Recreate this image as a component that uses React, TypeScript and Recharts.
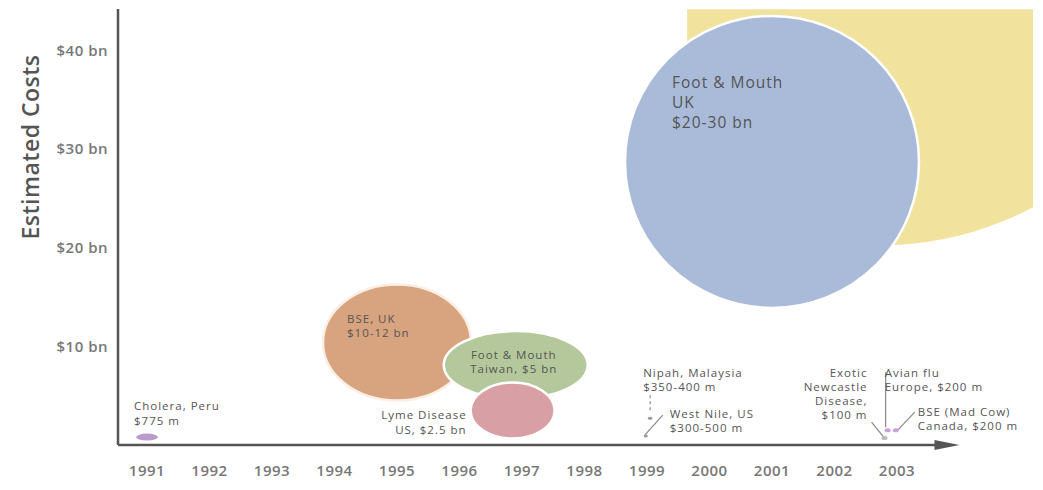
import React from 'react';
import { ScatterChart, Scatter, XAxis, YAxis, ReferenceLine } from 'recharts';

// outbreaks, in the order they are painted (back to front)
const outbreaks = [
  'Cropped bubble',
  'Foot & Mouth, UK',
  'BSE, UK',
  'Foot & Mouth, Taiwan',
  'Lyme Disease, US',
  'Cholera, Peru',
  'Nipah, Malaysia',
  'West Nile, US',
  'Exotic Newcastle Disease',
  'Avian flu, Europe',
  'BSE (Mad Cow), Canada',
];
const outbreakYears = [2002.73, 2001, 1995, 1996.9, 1996.85, 1991, 1999.05, 1998.98, 2002.8, 2002.85, 2002.98];
// where each mark sits on the cost axis ($ bn), as drawn
const plottedCosts = [53.4, 28.7, 10.4, 8.1, 3.5, 0.8, 2.7, 0.9, 0.7, 1.5, 1.5];
const outbreakLabels = [
  [],
  ['Foot & Mouth', 'UK', '$20-30 bn'],
  ['BSE, UK', '$10-12 bn'],
  ['Foot & Mouth', 'Taiwan, $5 bn'],
  ['Lyme Disease', 'US, $2.5 bn'],
  ['Cholera, Peru', '$775 m'],
  ['Nipah, Malaysia', '$350-400 m'],
  ['West Nile, US', '$300-500 m'],
  ['Exotic', 'Newcastle', 'Disease,', '$100 m'],
  ['Avian flu', 'Europe, $200 m'],
  ['BSE (Mad Cow)', 'Canada, $200 m'],
];

const yearTicks = [1991, 1992, 1993, 1994, 1995, 1996, 1997, 1998, 1999, 2000, 2001, 2002, 2003];
const costTicks = [10, 20, 30, 40];

const data = outbreaks.map((name, i) => ({
  name,
  year: outbreakYears[i],
  cost: plottedCosts[i],
  lines: outbreakLabels[i],
}));

interface MarkStyle {
  rx: number;
  ry: number;
  fill: string;
  stroke?: string;
  dx: number;
  dy: number;
  anchor?: 'start' | 'middle' | 'end';
  size?: number;
  lh?: number;
  leader?: string;
  dashed?: boolean;
  clip?: boolean;
}

const markStyles: Record<string, MarkStyle> = {
  'Cropped bubble': { rx: 327, ry: 327, fill: '#f1e39d', dx: 0, dy: 0, clip: true },
  'Foot & Mouth, UK': { rx: 147, ry: 146, fill: '#a9bbd9', stroke: '#fff', dx: -100, dy: -74, size: 15.5, lh: 20 },
  'BSE, UK': { rx: 74, ry: 58, fill: '#d8a37f', stroke: '#fbeee4', dx: -50, dy: -19, lh: 14 },
  'Foot & Mouth, Taiwan': { rx: 72, ry: 34, fill: '#b5c89c', stroke: '#fff', dx: -2, dy: -6, anchor: 'middle', lh: 14 },
  'Lyme Disease, US': { rx: 42, ry: 28, fill: '#d89fa5', stroke: '#fff', dx: -46, dy: 9, anchor: 'end', lh: 15 },
  'Cholera, Peru': { rx: 11, ry: 3.5, fill: '#b99bcb', dx: -13, dy: -27, lh: 15 },
  'Nipah, Malaysia': { rx: 2.5, ry: 1.5, fill: '#999', dx: -7, dy: -41, lh: 14, leader: 'M0,-23 L0,-8', dashed: true },
  'West Nile, US': { rx: 2, ry: 1.5, fill: '#999', dx: 24, dy: -18, lh: 14, leader: 'M-1,-1 L17,-21' },
  'Exotic Newcastle Disease': { rx: 3, ry: 2, fill: '#bbb', dx: -17, dy: -61, anchor: 'end', lh: 14, leader: 'M-13,-16 L0,0' },
  'Avian flu, Europe': { rx: 3, ry: 2, fill: '#c9a2d9', dx: -3, dy: -53, lh: 14, leader: 'M-2,-58 L-2,-3' },
  'BSE (Mad Cow), Canada': { rx: 3, ry: 2, fill: '#c9a2d9', dx: 22, dy: -14, lh: 14, leader: 'M19,-18 L2,0' },
};

const FONT = '"Open Sans", "Noto Sans", sans-serif';

const OutbreakMark = (props: any) => {
  const { cx, cy, payload } = props;
  const s = markStyles[payload.name];
  const clipId = 'clip-' + payload.name.replace(/[^a-z]/gi, '');
  return (
    <g>
      {s.clip && (
        <defs>
          <clipPath id={clipId}>
            <rect x={cx - 193} y={cy + 91} width={346} height={2000} />
          </clipPath>
        </defs>
      )}
      {s.leader && (
        <path d={s.leader} transform={`translate(${cx},${cy})`} stroke="#8a8a8a" strokeWidth={1.2}
          strokeDasharray={s.dashed ? '3 3' : undefined} fill="none" />
      )}
      <ellipse cx={cx} cy={cy} rx={s.rx} ry={s.ry} fill={s.fill}
        stroke={s.stroke || 'none'} strokeWidth={s.stroke ? 2.5 : 0}
        clipPath={s.clip ? `url(#${clipId})` : undefined} />
      {payload.lines.map((line: string, j: number) => (
        <text key={j} x={cx + s.dx} y={cy + s.dy + j * (s.lh || 14)} textAnchor={s.anchor || 'start'}
          fontSize={s.size || 11.5} letterSpacing={1} fontFamily={FONT} fill="#555">
          {line}
        </text>
      ))}
    </g>
  );
};

const ArrowAxis = (props: any) => {
  const { x1, y1, x2, y2 } = props;
  return (
    <g>
      <line x1={x1} y1={y1} x2={x2 - 20} y2={y2} stroke="#555" strokeWidth={2.5} />
      <polygon points={`${x2},${y2} ${x2 - 25},${y2 - 5} ${x2 - 25},${y2 + 5}`} fill="#555" />
    </g>
  );
};

const YTitle = (props: any) => {
  const { viewBox } = props;
  const x = viewBox.x + 30;
  const y = viewBox.y + 138;
  return (
    <text x={x} y={y} transform={`rotate(-90 ${x} ${y})`} textAnchor="middle" dominantBaseline="central"
      fontSize={23} fontWeight={600} letterSpacing={0.5} fontFamily={FONT} fill="#555">
      Estimated Costs
    </text>
  );
};

const tickStyle = { fontSize: 15, fontWeight: 600, fill: '#777', fontFamily: FONT, letterSpacing: 0.5 };

export default function App() {
  return (
    <div style={{ position: 'absolute', left: 0, top: 0, background: '#fff' }}>
      <ScatterChart width={1043} height={490} margin={{ top: 9, right: 10, bottom: 0, left: 0 }}>
        <XAxis
          type="number"
          dataKey="year"
          domain={[1990.536, 2005.176]}
          ticks={yearTicks}
          allowDataOverflow
          axisLine={false}
          tickLine={false}
          tickMargin={14}
          height={45}
          tick={tickStyle}
        />
        <YAxis
          type="number"
          dataKey="cost"
          domain={[0, 44.2]}
          ticks={costTicks}
          allowDataOverflow
          width={118}
          axisLine={{ stroke: '#555', strokeWidth: 2.5 }}
          tickLine={false}
          tickMargin={4}
          tickFormatter={(v: number) => `$${v} bn`}
          tick={tickStyle}
          label={{ content: YTitle }}
        />
        <Scatter data={data} shape={OutbreakMark} isAnimationActive={false} />
        <ReferenceLine
          segment={[{ x: 1990.536, y: 0 }, { x: 2004, y: 0 }]}
          ifOverflow="visible"
          shape={ArrowAxis}
        />
      </ScatterChart>
    </div>
  );
}
